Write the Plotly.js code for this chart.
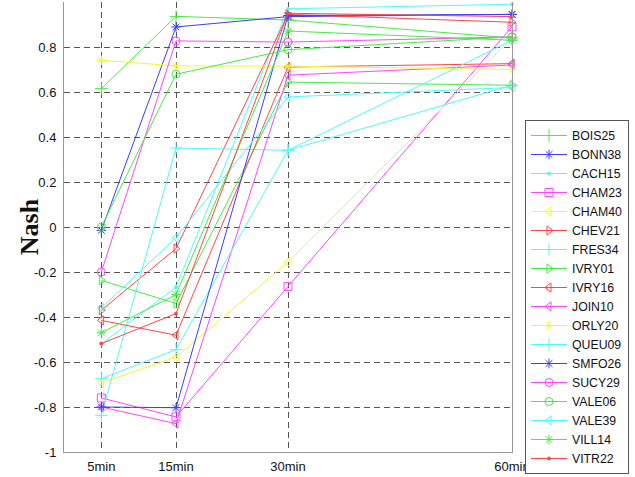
<!DOCTYPE html>
<html>
<head>
<meta charset="utf-8">
<script src="https://cdn.plot.ly/plotly-3.0.1.min.js"></script>
<style>
  html, body { margin: 0; padding: 0; background: #fff; }
  #chart { width: 635px; height: 477px; }
</style>
</head>
<body>
<div id="chart"></div>
<script>
// Time steps (minutes) and their tick labels
const steps = [5, 15, 30, 60];
const stepLabels = ['5min', '15min', '30min', '60min'];

// Nash efficiency per station at each time step
const BOIS25 = [0.615, 0.936, 0.920, 0.840];
const BONN38 = [-0.015, 0.889, 0.935, 0.945];
const CACH15 = [-0.520, -0.267, 0.970, 0.990];
const CHAM23 = [-0.760, -0.844, -0.264, 0.890];
const CHAM40 = [-0.693, -0.578, -0.156, 0.840];
const CHEV21 = [-0.370, -0.096, 0.945, 0.910];
const FRES34 = [-0.837, 0.351, 0.341, 0.630];
const IVRY01 = [-0.237, -0.340, 0.644, 0.630];
const IVRY16 = [-0.415, -0.481, 0.711, 0.726];
const JOIN10 = [-0.800, -0.874, 0.675, 0.720];
const ORLY20 = [0.741, 0.716, 0.715, 0.700];
const QUEU09 = [-0.674, -0.545, 0.341, 0.830];
const SMFO26 = [-0.800, -0.803, 0.940, 0.945];
const SUCY29 = [-0.200, 0.827, 0.822, 0.845];
const VALE06 = [0.000, 0.679, 0.788, 0.845];
const VALE39 = [-0.360, -0.047, 0.578, 0.620];
const VILL14 = [-0.470, -0.300, 0.871, 0.830];
const VITR22 = [-0.518, -0.385, 0.950, 0.935];

const stations = [
  ['BOIS25', BOIS25], ['BONN38', BONN38], ['CACH15', CACH15],
  ['CHAM23', CHAM23], ['CHAM40', CHAM40], ['CHEV21', CHEV21],
  ['FRES34', FRES34], ['IVRY01', IVRY01], ['IVRY16', IVRY16],
  ['JOIN10', JOIN10], ['ORLY20', ORLY20], ['QUEU09', QUEU09],
  ['SMFO26', SMFO26], ['SUCY29', SUCY29], ['VALE06', VALE06],
  ['VALE39', VALE39], ['VILL14', VILL14], ['VITR22', VITR22]
];

// colour cycle and marker per station (same order as above)
const colors = {
  g: 'rgb(70,235,70)', b: 'rgb(60,60,255)', c: 'rgb(80,250,250)',
  m: 'rgb(255,70,255)', y: 'rgb(245,245,50)', r: 'rgb(255,70,70)'
};
const styles = [
  ['g', 'cross-thin-open', 9], ['b', 'asterisk-open', 8], ['c', 'circle', 3],
  ['m', 'square-open', 8], ['y', 'triangle-left-open', 8], ['r', 'triangle-right-open', 8],
  ['c', 'cross-thin-open', 9], ['g', 'triangle-right-open', 8], ['r', 'triangle-left-open', 8],
  ['m', 'triangle-left-open', 8], ['y', 'asterisk-open', 8], ['c', 'cross-thin-open', 9],
  ['b', 'asterisk-open', 8], ['m', 'circle-open', 8], ['g', 'circle-open', 8],
  ['c', 'triangle-left-open', 8], ['g', 'asterisk-open', 8], ['r', 'circle', 3]
];

const traces = stations.map(([name, vals], i) => {
  const [c, sym, sz] = styles[i];
  return {
    type: 'scatter', mode: 'lines+markers', name: name,
    x: steps, y: vals,
    line: { color: colors[c], width: 1 },
    marker: { symbol: sym, size: sz, color: colors[c], line: { color: colors[c], width: 1 } },
    cliponaxis: false
  };
});

const gridStyle = { showgrid: true, gridcolor: '#555', griddash: '6px,4px', gridwidth: 1 };

const layout = {
  width: 635, height: 477,
  // small bottom margin so the tall legend can reach the lower edge;
  // the plot's bottom is set through the y-axis domain instead
  margin: { l: 64, r: 123, t: 2, b: 2, autoexpand: false },
  paper_bgcolor: '#fff', plot_bgcolor: '#fff',
  font: { family: 'Liberation Sans, Arial, sans-serif', size: 12, color: '#111' },
  showlegend: true,
  legend: {
    x: 1.029, xanchor: 'left', y: 0.7505, yanchor: 'top',
    bgcolor: '#fff', bordercolor: '#555', borderwidth: 1,
    font: { family: 'Liberation Sans, Arial, sans-serif', size: 12.3, color: '#111' },
    tracegroupgap: 0, itemwidth: 36
  },
  xaxis: Object.assign({
    range: [0, 60], tickvals: steps, ticktext: stepLabels,
    zeroline: false, showline: true, linecolor: '#999', linewidth: 1,
    ticks: '', tickfont: { size: 13 }, ticklabelstandoff: 2, mirror: false,
    automargin: false
  }, gridStyle),
  yaxis: Object.assign({
    domain: [0.0486, 1],
    range: [-1, 1], tickvals: [-1, -0.8, -0.6, -0.4, -0.2, 0, 0.2, 0.4, 0.6, 0.8],
    ticktext: ['-1', '-0.8', '-0.6', '-0.4', '-0.2', '0', '0.2', '0.4', '0.6', '0.8'],
    zeroline: false, showline: true, linecolor: '#999', linewidth: 1, mirror: true,
    ticks: '', tickfont: { size: 13 }, ticklabelstandoff: 4, automargin: false
  }, gridStyle),
  annotations: [{
    text: '<b>Nash</b>', textangle: -90, xref: 'paper', yref: 'paper',
    x: -0.077, y: 0.525, xanchor: 'center', yanchor: 'middle', showarrow: false,
    bgcolor: '#fff', borderpad: 0,
    font: { family: 'Liberation Serif, Times New Roman, serif', size: 26, color: '#111' }
  }]
};

Plotly.newPlot('chart', traces, layout, { staticPlot: true, displayModeBar: false });
</script>
</body>
</html>
